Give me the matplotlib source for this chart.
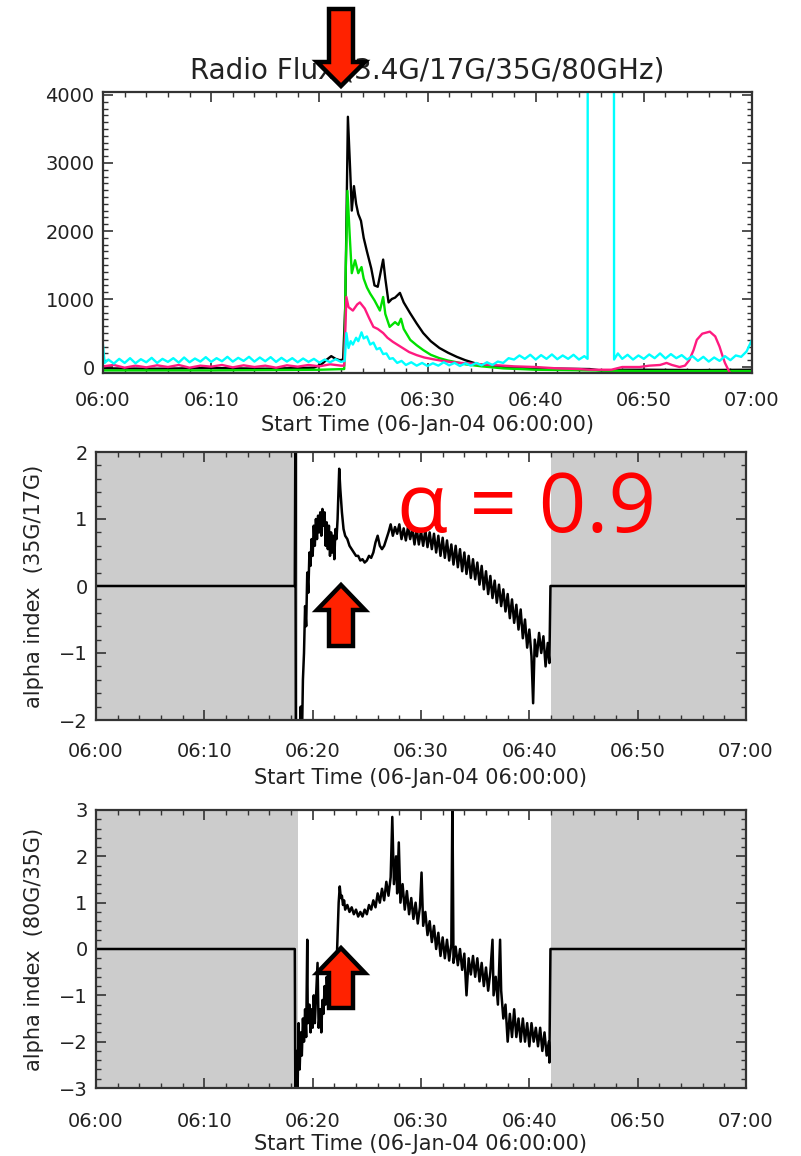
import matplotlib
matplotlib.use("Agg")
import matplotlib.pyplot as plt
from matplotlib.patches import Polygon
from matplotlib.ticker import MultipleLocator

# === Dados (minutos desde 06:00) ===
tick_min = [0, 10, 20, 30, 40, 50, 60]
tick_lbl = ["06:00", "06:10", "06:20", "06:30", "06:40", "06:50", "07:00"]

# fluxo - preto
t_blk = [0, 5, 10, 15, 19.5, 20.2, 20.7, 21.1, 21.5, 21.9, 22.2, 22.4, 22.64, 22.85, 23.0,
         23.2, 23.4, 23.6, 23.85, 24.1, 24.4, 24.8, 25.1, 25.4, 25.9, 26.1, 26.4, 26.7, 27.0,
         27.45, 27.8, 28.4, 29.0, 29.6, 30.3, 31.1, 31.9, 32.7, 33.5, 34.5, 35.5, 37, 40, 45,
         46, 47, 48, 50, 55, 60]
f_blk = [-20, -25, -15, -25, -10, 40, 110, 160, 120, 100, 110, 900, 3680, 2900, 2300,
         2660, 2400, 2250, 2150, 1900, 1700, 1450, 1200, 1180, 1580, 1300, 950, 1000, 1020,
         1090, 950, 790, 640, 500, 380, 280, 210, 150, 100, 50, 20, 0, -20, -30,
         -50, -50, -40, -40, -45, -40]

# fluxo - verde
t_grn = [0, 10, 20, 22.3, 22.45, 22.6, 22.8, 23.0, 23.3, 23.6, 23.9, 24.1, 24.4, 24.7, 25.1,
         25.6, 25.9, 26.1, 26.5, 27.0, 27.3, 27.55, 27.8, 28.4, 29.0, 29.6, 30.3, 31.1, 31.9,
         32.7, 33.5, 35, 37, 40, 50, 60]
f_grn = [-50, -50, -40, -30, 1500, 2590, 1960, 1380, 1570, 1380, 1470, 1300, 1170, 1080, 980,
         830, 1030, 780, 590, 660, 620, 710, 560, 400, 320, 250, 180, 130, 95,
         70, 40, 10, -20, -40, -60, -60]

# fluxo - rosa
t_pnk = [0, 1, 2, 3, 4, 5, 6, 7, 8, 9, 10, 11, 12, 13, 14, 15, 16, 17, 18, 19, 20, 21, 22,
         22.3, 22.5, 22.7, 23.1, 23.5, 23.75, 24.2, 24.6, 25.0, 25.4, 25.9, 26.3, 26.8, 27.2,
         27.7, 28.3, 29.0, 29.7, 30.5, 31.4, 32.3, 34, 36, 38, 40, 42, 44, 45, 47, 48, 49.6,
         50.5, 51.5, 52.1, 52.6, 53.3, 53.8, 54.2, 54.6, 54.9, 55.4, 56.1, 56.6, 57.0, 57.3,
         57.5, 57.9, 58.1]
f_pnk = [10, 30, -10, 20, -5, 25, 0, 30, -10, 20, 5, 30, -5, 25, 0, 20, -10, 25, 5, 30, 10, 40, 20,
         20, 1030, 880, 830, 920, 950, 860, 720, 590, 560, 500, 430, 370, 330,
         280, 220, 175, 140, 115, 90, 70, 50, 30, 10, 0, -20, -30, -40, -40, 0, 0,
         20, 30, 60, 30, 0, 20, 100, 250, 400, 490, 520, 450, 300, 150,
         60, -70, -100]

# fluxo - ciano
t_cya = [0.0, 0.15, 0.5, 1.0, 1.5, 2.0, 2.5, 3.0, 3.5, 4.0, 4.5, 5.0, 5.5, 6.0, 6.5, 7.0, 7.5,
         8.0, 8.5, 9.0, 9.5, 10.0, 10.5, 11.0, 11.5, 12.0, 12.5, 13.0, 13.5, 14.0, 14.5, 15.0,
         15.5, 16.0, 16.5, 17.0, 17.5, 18.0, 18.5, 19.0, 19.5, 20.0, 20.5, 21.0, 21.5, 22.0,
         22.35, 22.5, 22.7, 22.9, 23.1, 23.4, 23.6, 23.9, 24.1, 24.4, 24.7, 25.0, 25.3, 25.6,
         25.9, 26.2, 26.5, 26.8, 27.2, 27.6, 28.0, 28.5, 29.0, 29.5, 30.0, 30.5, 31.0, 31.5,
         32.0, 32.5, 33.0, 33.5, 34.0, 34.5, 35.0, 35.5, 36.0, 36.5, 37.0, 37.5, 38.0, 38.5,
         39.0, 39.5, 40.0, 40.5, 41.0, 41.5, 42.0, 42.5, 43.0, 43.5, 44.0, 44.5, 44.8, 44.85,
         47.2, 47.25, 47.6, 48.0, 48.5, 49.0, 49.5, 50.0, 50.5, 51.0, 51.5, 52.0, 52.5, 53.0,
         53.5, 54.0, 54.5, 55.0, 55.5, 56.0, 56.5, 57.0, 57.5, 58.0, 58.5, 59.0, 59.5, 60.0]
f_cya = [320, 60, 110, 50, 120, 60, 130, 55, 115, 70, 135, 60, 120, 75, 130, 65, 140,
         70, 125, 80, 145, 75, 130, 85, 150, 80, 135, 90, 150, 80, 140, 85,
         145, 75, 135, 80, 130, 70, 125, 75, 120, 65, 110, 70, 115, 75,
         90, 500, 280, 380, 330, 430, 380, 510, 420, 450, 330, 360, 260, 280,
         190, 200, 120, 130, 60, 90, 30, 70, 20, 60, 15, 55, 20, 70,
         25, 60, 15, 55, 20, 60, 25, 70, 30, 80, 60, 130, 110, 170,
         120, 180, 110, 175, 120, 185, 115, 170, 120, 180, 110, 160, 120, 20000,
         20000, 110, 200, 120, 180, 110, 170, 120, 185, 130, 200, 125, 190, 130,
         175, 110, 160, 90, 150, 80, 140, 90, 160, 100, 170, 150, 230, 400]

# indice alfa 35G/17G
t_a1 = [0, 18.35, 18.4, 18.45, 18.6, 18.75, 18.9, 19.0, 19.1, 19.2, 19.3, 19.4, 19.5, 19.6,
        19.7, 19.8, 19.9, 20.0, 20.1, 20.2, 20.3, 20.4, 20.5, 20.6, 20.7, 20.8, 20.9, 21.0,
        21.1, 21.2, 21.3, 21.4, 21.5, 21.6, 21.7, 21.8, 21.9, 22.0, 22.1, 22.2, 22.3, 22.45,
        22.55, 22.7, 22.85, 23.0, 23.2, 23.4, 23.6, 23.8, 24.0, 24.2, 24.4, 24.6, 24.8, 25.0,
        25.2, 25.4, 25.6, 25.8, 26.0, 26.2, 26.4, 26.6, 26.8,
        27.0, 27.2, 27.4, 27.6, 27.8, 28.0, 28.2, 28.4, 28.6, 28.8, 29.0, 29.2, 29.4, 29.6,
        29.8, 30.0, 30.2, 30.4, 30.6, 30.8, 31.0, 31.2, 31.4, 31.6, 31.8, 32.0, 32.2, 32.4,
        32.6, 32.8, 33.0, 33.2, 33.4, 33.6, 33.8, 34.0, 34.2, 34.4, 34.6, 34.8, 35.0, 35.2,
        35.4, 35.6, 35.8, 36.0, 36.2, 36.4, 36.6, 36.8, 37.0, 37.2, 37.4, 37.6, 37.8, 38.0,
        38.2, 38.4, 38.6, 38.8, 39.0, 39.2, 39.4, 39.6, 39.8, 40.0, 40.2, 40.35, 40.5, 40.7,
        40.9, 41.1, 41.3, 41.5, 41.7, 41.85, 41.95, 60]
a1 = [0, 0, 2.2, -2.5, -2.3, -2.6, -1.8, -2.4, -1.4, -1.0, -0.3, -0.6, 0.2, -0.1,
      0.5, 0.3, 0.7, 0.45, 0.9, 0.6, 1.0, 0.7, 1.05, 0.8, 1.1, 0.75, 1.15, 0.9,
      1.1, 0.6, 0.95, 0.55, 0.9, 0.45, 0.8, 0.5, 0.75, 0.4, 0.85, 0.7, 1.0, 1.75,
      1.45, 1.1, 0.85, 0.75, 0.7, 0.6, 0.55, 0.5, 0.45, 0.45, 0.38, 0.4, 0.35, 0.38,
      0.45, 0.42, 0.5, 0.65, 0.75, 0.6, 0.55, 0.6, 0.7,
      0.80, 0.92, 0.75, 0.88, 0.78, 0.92, 0.70, 0.86, 0.68, 0.88, 0.70, 0.85, 0.62, 0.86,
      0.62, 0.82, 0.60, 0.84, 0.58, 0.80, 0.55, 0.78, 0.50, 0.75, 0.45, 0.72, 0.42, 0.68,
      0.38, 0.62, 0.32, 0.60, 0.28, 0.55, 0.22, 0.50, 0.18, 0.45, 0.12, 0.40, 0.10, 0.35,
      0.02, 0.30, -0.05, 0.22, -0.12, 0.15, -0.18, 0.08, -0.25, 0.02, -0.30, -0.05, -0.38, -0.12,
      -0.48, -0.20, -0.55, -0.28, -0.65, -0.35, -0.78, -0.50, -0.92, -0.65, -1.05, -1.75, -0.80, -1.05,
      -0.70, -1.00, -0.75, -1.20, -0.85, -1.15, 0.0, 0.0]

# indice alfa 80G/35G
t_a2 = [0, 18.35, 18.4, 18.5, 18.6, 18.7, 18.8, 18.9, 19.0, 19.1, 19.2, 19.3, 19.4, 19.5,
        19.55, 19.7, 19.8, 19.9, 20.0, 20.1, 20.2, 20.3, 20.45, 20.55, 20.7, 20.8, 20.9, 21.0,
        21.1, 21.2, 21.3, 21.4, 21.5, 21.6, 21.7, 21.8, 21.9, 22.0, 22.1, 22.2, 22.3, 22.4,
        22.5, 22.6, 22.7, 22.8, 22.9, 23.0, 23.2, 23.4, 23.6, 23.8, 24.0, 24.2, 24.4, 24.6,
        24.8, 25.0, 25.2, 25.4, 25.6, 25.8, 26.0, 26.2, 26.4, 26.6, 26.8, 27.0, 27.2, 27.35,
        27.5, 27.7, 27.8, 27.95, 28.1, 28.3, 28.5, 28.7, 28.9, 29.1, 29.3, 29.5, 29.7, 29.9,
        30.05, 30.2, 30.4, 30.6, 30.8, 31.0, 31.2, 31.4, 31.6, 31.8, 32.0, 32.2, 32.4, 32.6,
        32.8, 32.9, 33.0, 33.2, 33.4, 33.6, 33.8, 34.0, 34.2, 34.4, 34.6, 34.8, 35.0, 35.2,
        35.4, 35.6, 35.8, 36.0, 36.2, 36.4, 36.6, 36.7, 36.9, 37.1, 37.3, 37.4, 37.6, 37.8,
        38.0, 38.2, 38.4, 38.6, 38.8, 39.0, 39.2, 39.4, 39.6, 39.8, 40.0, 40.2, 40.4, 40.6,
        40.8, 41.0, 41.2, 41.4, 41.6, 41.8, 41.85, 41.95, 60]
a2 = [0, 0, -3.3, -2.2, -3.2, -1.6, -2.6, -1.8, -2.3, -1.5, -2.0, -1.3, -1.9, 0.2,
      -1.6, -1.2, -1.8, -1.3, -1.7, -1.0, -1.6, -1.1, -0.3, -1.7, -1.3, -1.8, -1.1, -1.4,
      -0.8, -1.2, -0.6, -1.0, -0.5, -0.9, -0.4, -0.8, -0.3, -0.6, -0.1, -0.4, 0.3, 1.0,
      1.35, 1.1, 1.15, 0.95, 1.05, 0.85, 0.95, 0.8, 0.9, 0.75, 0.85, 0.7, 0.8, 0.7,
      0.85, 0.75, 0.95, 0.85, 1.05, 0.9, 1.2, 1.0, 1.3, 1.05, 1.45, 1.15, 1.55, 2.85,
      1.4, 2.0, 1.2, 2.3, 1.0, 1.4, 0.85, 1.25, 0.75, 1.1, 0.65, 1.0, 0.55, 0.9,
      1.65, 0.5, 0.8, 0.3, 0.6, 0.15, 0.5, 0.0, 0.35, -0.15, 0.25, -0.2, 0.2, -0.25,
      0.1, 3.3, -0.3, 0.05, -0.35, 0.0, -0.45, -0.1, -1.0, -0.2, -0.55, -0.15, -0.6, -0.2,
      -0.7, -0.3, -0.8, -0.4, -0.9, -0.5, 0.2, -1.0, -0.6, -1.2, 0.2, -0.9, -1.5, -1.2,
      -2.0, -1.4, -1.9, -1.3, -1.9, -1.5, -2.0, -1.5, -2.0, -1.6, -2.1, -1.6, -2.0, -1.7,
      -2.1, -1.7, -2.2, -1.8, -2.3, -2.0, -2.45, 0.0, 0.0]

# regioes sombreadas
shade_l = (0, 18.6)
shade_r = (42.0, 60)

W, H = 801, 1156
fig = plt.figure(figsize=(W / 100, H / 100), dpi=100)
txt_c = "#222222"


def estilo(ax, ymin, ymax, ymaj, ymin_step, xpad):
    ax.set_xlim(0, 60)
    ax.set_ylim(ymin, ymax)
    ax.set_xticks(tick_min)
    ax.set_xticklabels(tick_lbl)
    ax.xaxis.set_minor_locator(MultipleLocator(2))
    ax.yaxis.set_major_locator(MultipleLocator(ymaj))
    ax.yaxis.set_minor_locator(MultipleLocator(ymin_step))
    ax.tick_params(which="both", direction="in", top=True, right=True,
                   colors="#333333", labelcolor=txt_c, labelsize=14)
    ax.tick_params(which="major", length=7, width=1.2)
    ax.tick_params(which="minor", length=3.5, width=1.0)
    ax.tick_params(axis="x", pad=xpad)
    ax.tick_params(axis="y", pad=6)
    for s in ax.spines.values():
        s.set_linewidth(1.6)
        s.set_color("#333333")


def pos(l, t, r, b):
    return [l / W, 1 - b / H, (r - l) / W, (b - t) / H]


# === Painel 1: fluxo ===
ax1 = fig.add_axes(pos(103, 92, 752, 373))
ax1.plot(t_blk, f_blk, color="black", lw=1.7)
ax1.plot(t_grn, f_grn, color="#00e000", lw=1.7)
ax1.plot(t_pnk, f_pnk, color="#ff1a80", lw=1.7)
ax1.plot(t_cya, f_cya, color="#00ffff", lw=1.7)
estilo(ax1, -88, 4044, 1000, 100, 13)
ax1.set_title("Radio Flux (3.4G/17G/35G/80GHz)", fontsize=20, color=txt_c, pad=10)
ax1.set_xlabel("Start Time (06-Jan-04 06:00:00)", fontsize=15, color=txt_c)
ax1.xaxis.set_label_coords(0.5, -0.15)

# === Painel 2: alfa 35G/17G ===
ax2 = fig.add_axes(pos(96, 452, 746, 720))
ax2.axvspan(*shade_l, color="#cccccc", lw=0)
ax2.axvspan(*shade_r, color="#cccccc", lw=0)
ax2.plot(t_a1, a1, color="black", lw=1.8)
estilo(ax2, -2, 2, 1, 0.2, 15.5)
ax2.set_xlabel("Start Time (06-Jan-04 06:00:00)", fontsize=15, color=txt_c)
ax2.xaxis.set_label_coords(0.5, -0.18)
ax2.set_ylabel("alpha index  (35G/17G)", fontsize=15, color=txt_c)
ax2.yaxis.set_label_coords(-0.08, 0.5)

# === Painel 3: alfa 80G/35G ===
ax3 = fig.add_axes(pos(96, 810, 746, 1088))
ax3.axvspan(*shade_l, color="#cccccc", lw=0)
ax3.axvspan(*shade_r, color="#cccccc", lw=0)
ax3.plot(t_a2, a2, color="black", lw=1.8)
estilo(ax3, -3, 3, 1, 0.2, 17)
ax3.set_xlabel("Start Time (06-Jan-04 06:00:00)", fontsize=15, color=txt_c)
ax3.xaxis.set_label_coords(0.5, -0.165)
ax3.set_ylabel("alpha index  (80G/35G)", fontsize=15, color=txt_c)
ax3.yaxis.set_label_coords(-0.08, 0.5)

# texto alfa
fig.text(527 / W, 1 - 532 / H, "\u03b1 = 0.9", color="#ff0000", fontsize=60,
         family=["Open Sans", "DejaVu Sans"], ha="center", va="baseline")


# === setas ===
def seta(cx, y_tip, y_head, y_end):
    pts = [(cx, y_tip), (cx - 24, y_head), (cx - 12, y_head), (cx - 12, y_end),
           (cx + 12, y_end), (cx + 12, y_head), (cx + 24, y_head)]
    pts = [(x / W, 1 - y / H) for x, y in pts]
    fig.add_artist(Polygon(pts, closed=True, facecolor="#ff2200", edgecolor="black",
                           lw=3.2, joinstyle="miter", transform=fig.transFigure, zorder=10))


seta(341, 86, 62, 9)
seta(341, 585, 610, 646)
seta(341, 948, 973, 1008)

fig.savefig("out.png", dpi=100)
